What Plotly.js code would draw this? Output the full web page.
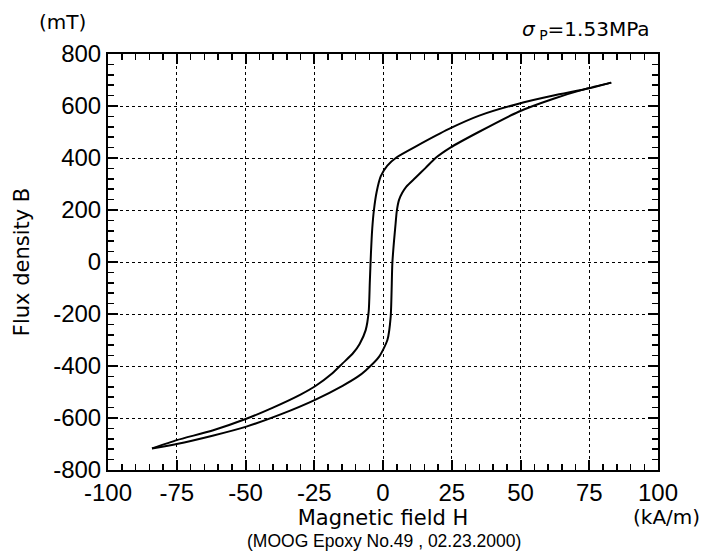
<!DOCTYPE html>
<html>
<head>
<meta charset="utf-8">
<script src="https://cdn.plot.ly/plotly-3.0.1.min.js"></script>
<style>html,body{margin:0;padding:0;background:#fff;}#chart{width:709px;height:559px;}</style>
</head>
<body>
<div id="chart"></div>
<script>
// Descending branch (H from +max to -max)
const hDown = [83, 75, 62, 49, 35, 24, 12, 5, 1.5, -0.8, -2.3, -3.3, -3.9, -4.4, -4.8, -5.2, -6.3, -8.5, -11, -14.7, -18.4, -24.7, -30, -40, -49.7, -62, -75, -84];
const bDown = [690, 668, 640, 608, 563, 512, 445, 403, 370, 330, 270, 200, 130, 30, -80, -190, -262, -315, -352, -390, -428, -478, -510, -560, -603, -648, -685, -717];
// Ascending branch (H from -max to +max)
const hUp = [-84, -75, -62, -49.7, -37, -24.7, -14.7, -9.3, -6.3, -1.4, 1.6, 2.8, 3.4, 4.0, 4.6, 5.0, 5.8, 7.0, 8.5, 11.8, 15.5, 19.1, 24.5, 34.8, 49.3, 62, 73.4, 83];
const bUp = [-717, -700, -668, -633, -585, -530, -476, -442, -417, -364, -300, -210, -5, 80, 150, 195, 238, 266, 290, 324, 362, 400, 440, 500, 578, 628, 665, 690];

const xTicks = [-100, -75, -50, -25, 0, 25, 50, 75, 100];
const yTicks = [-800, -600, -400, -200, 0, 200, 400, 600, 800];

const xTitle = 'Magnetic field H';
const yTitle = 'Flux density B';
const yUnit = '(mT)';
const xUnit = '(kA/m)';
const stressNote = '<i>σ</i><sub> P</sub>=1.53MPa';
const sampleNote = '(MOOG Epoxy No.49 , 02.23.2000)';

const labelFont = {family: 'DejaVu Sans, Arial, sans-serif', size: 21, color: '#000'};
const noteFont = {family: 'Liberation Sans, Arial, sans-serif', size: 17.5, color: '#000'};
const unitFont = {family: 'DejaVu Sans, Arial, sans-serif', size: 20, color: '#000'};
const tickFont = {family: 'Liberation Sans, Arial, sans-serif', size: 24, color: '#000'};

const traces = [
  {x: hDown, y: bDown, mode: 'lines', line: {color: '#000', width: 2, shape: 'spline', smoothing: 0.6}, hoverinfo: 'skip', showlegend: false},
  {x: hUp, y: bUp, mode: 'lines', line: {color: '#000', width: 2, shape: 'spline', smoothing: 0.6}, hoverinfo: 'skip', showlegend: false}
];

const axisCommon = {
  showline: true, linecolor: '#000', linewidth: 2, mirror: 'allticks',
  ticks: 'inside', ticklen: 10, tickwidth: 2, tickcolor: '#000',
  showgrid: true, gridcolor: '#000', gridwidth: 1, griddash: 'dot',
  zeroline: false, tickfont: tickFont
};

const layout = {
  width: 709, height: 559,
  margin: {l: 108, r: 51, t: 54, b: 89},
  paper_bgcolor: '#fff', plot_bgcolor: '#fff',
  xaxis: Object.assign({}, axisCommon, {
    range: [-100, 100], tickmode: 'array', tickvals: xTicks, ticktext: xTicks.map(String),
    minor: {ticks: 'inside', ticklen: 6, tickwidth: 1.5, tickcolor: '#000', dtick: 5, tick0: 0, showgrid: false},
    title: {text: xTitle, font: labelFont, standoff: 0}
  }),
  yaxis: Object.assign({}, axisCommon, {
    range: [-800, 800], tickmode: 'array', tickvals: yTicks, ticktext: yTicks.map(String),
    minor: {ticks: 'inside', ticklen: 6, tickwidth: 1.5, tickcolor: '#000', dtick: 40, tick0: 0, showgrid: false},
    title: {text: yTitle, font: labelFont, standoff: 18}
  }),
  annotations: [
    {text: yUnit, xref: 'paper', yref: 'paper', x: -0.0836, y: 1.077, xanchor: 'center', yanchor: 'middle', showarrow: false, font: unitFont},
    {text: stressNote, xref: 'paper', yref: 'paper', x: 0.989, y: 1.058, xanchor: 'right', yanchor: 'middle', showarrow: false, font: unitFont},
    {text: xUnit, xref: 'paper', yref: 'paper', x: 1.016, y: -0.112, xanchor: 'center', yanchor: 'middle', showarrow: false, font: unitFont},
    {text: sampleNote, xref: 'paper', yref: 'paper', x: 0.502, y: -0.171, xanchor: 'center', yanchor: 'middle', showarrow: false, font: noteFont}
  ]
};

Plotly.newPlot('chart', traces, layout, {staticPlot: true, displayModeBar: false});
</script>
</body>
</html>
